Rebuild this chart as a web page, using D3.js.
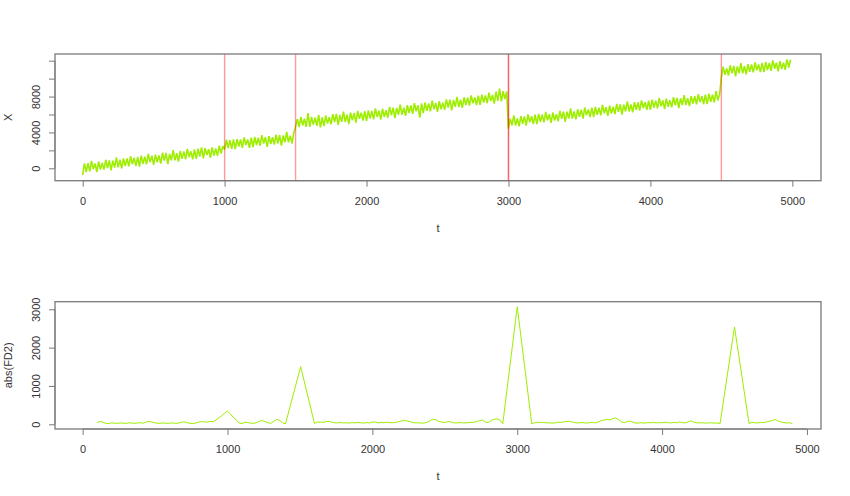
<!DOCTYPE html>
<html>
<head>
<meta charset="utf-8">
<script src="https://cdn.jsdelivr.net/npm/d3@7"></script>
<style>
    body { margin: 0; background: #fff; }
    text { font-family: "Liberation Sans", Arial, sans-serif; font-size: 11px; fill: #333; }
</style>
</head>
<body>
<div id="chart"></div>
<script>
// Top panel: X as [low, high] per 25-step bin of t
const binSize = 25;
const xBand = [
    // t 0 - 975
    [-750, 540], [-420, 560], [-340, 820], [-80, 530], [-410, 740], [-130, 600], [-150, 950], [10, 870],
    [-220, 850], [80, 1210], [100, 960], [-20, 1100], [250, 1100], [220, 1340], [460, 1170], [260, 1270],
    [180, 1420], [500, 1300], [440, 1600], [680, 1410], [380, 1530], [670, 1440], [530, 1730], [860, 1710],
    [470, 1610], [880, 2030], [880, 1680], [750, 1930], [1050, 1880], [1010, 2160], [1260, 1890], [990, 2110],
    [1060, 2200], [1300, 2330], [1120, 2250], [1480, 2130], [1180, 2340], [1430, 2200], [1390, 2530], [1630, 2470],
    // t 1000 - 1475
    [2080, 3180], [2260, 3140], [2180, 3210], [2130, 3260], [2430, 3230], [2270, 3440], [2600, 3210], [2290, 3410],
    [2360, 3490], [2600, 3400], [2520, 3700], [2770, 3470], [2400, 3600], [2710, 3460], [2650, 3750], [2770, 3710],
    [2540, 3650], [2900, 4050], [2900, 3640], [2770, 3940],
    // t 1500 - 2975
    [4650, 5480], [4590, 5720], [4780, 5530], [4630, 6150], [4620, 5740], [4870, 5640], [4740, 5960], [4560, 5690],
    [4700, 5890], [4990, 5700], [4910, 6050], [5150, 6070], [4840, 5940], [5180, 6330], [5160, 5980], [4930, 6210],
    [5350, 6180], [5090, 6410], [5520, 6210], [5330, 6360], [5300, 6450], [5560, 6390], [5460, 6680], [5730, 6430],
    [5420, 6640], [5730, 6470], [5640, 6850], [5930, 6770], [5590, 6730], [5980, 7110], [5960, 6760], [5850, 7040],
    [6170, 7000], [6070, 7260], [6360, 7030], [5650, 7230], [6160, 7340], [6400, 7240], [6340, 7540], [6590, 7290],
    [6300, 7490], [6590, 7320], [6510, 7690], [6770, 7650], [6460, 7610], [6860, 7970], [6840, 7640], [6730, 7920],
    [7050, 7880], [6990, 8120], [7240, 7910], [7050, 8110], [7080, 8210], [7320, 8120], [7260, 8440], [7510, 8190],
    [7220, 8560], [7510, 8900], [7450, 8610], [7710, 8570],
    // t 3000 - 4475
    [4420, 5530], [4780, 5890], [4760, 5560], [4670, 5820], [4950, 5780], [4750, 6000], [5140, 5810], [4930, 5970],
    [4940, 6070], [5180, 5980], [5120, 6280], [5350, 6030], [5060, 6220], [5330, 6040], [5250, 6410], [5510, 6330],
    [5180, 6310], [5560, 6670], [5540, 6340], [5450, 6580], [5730, 6540], [5530, 6780], [5920, 6570], [5710, 6750],
    [5720, 6850], [5960, 6760], [5900, 7060], [6130, 6810], [5840, 7000], [6110, 6840], [6050, 7190], [6290, 7130],
    [5980, 7090], [6340, 7470], [6340, 7120], [6230, 7380], [6530, 7340], [6450, 7580], [6720, 7370], [6510, 7550],
    [6520, 7650], [6760, 7540], [6680, 7840], [6910, 7570], [6600, 7760], [6870, 7580], [6790, 7930], [7030, 7850],
    [6700, 7810], [7060, 8170], [7040, 7820], [6930, 8060], [7210, 8040], [7130, 8260], [7380, 8050], [7170, 8210],
    [7160, 8310], [7400, 8220], [7340, 8600], [7570, 8230],
    // t 4500 - 4975
    [10150, 11340], [10430, 11140], [10350, 11490], [10590, 11410], [10260, 11370], [10620, 11730], [10600, 11380], [10490, 11620],
    [10770, 11580], [10690, 11800], [10940, 11590], [10730, 11750], [10720, 11850], [10960, 11740], [10880, 12040], [11110, 11770],
    [10800, 11960], [11070, 11780], [10990, 12150], [11230, 12110]
];
// vertical markers; 3000 appears in both sets, so it is drawn darker
const trueChangePoints = [1000, 1500, 3000, 4500];
const foundChangePoints = [3000];

// Bottom panel: abs(FD2) as [t, value]
const fd2 = [
    [100, 45], [120, 70], [140, 55], [160, 25], [180, 20], [200, 35], [220, 30], [240, 25], [260, 35], [280, 30],
    [300, 25], [320, 40], [340, 30], [360, 25], [380, 35], [400, 40], [420, 30], [440, 60], [460, 75], [480, 55],
    [500, 40], [520, 25], [540, 30], [560, 35], [580, 25], [600, 30], [620, 35], [640, 25], [660, 30], [680, 50],
    [700, 65], [720, 40], [740, 25], [760, 20], [780, 30], [800, 55], [820, 70], [840, 65], [860, 55], [880, 75],
    [900, 70], [920, 110], [940, 170], [960, 220], [980, 290], [1000, 345], [1020, 270], [1040, 180], [1060, 120], [1080, 35],
    [1100, 20], [1120, 55], [1140, 45], [1160, 30], [1180, 25], [1200, 40], [1220, 80], [1240, 95], [1260, 70], [1280, 40],
    [1300, 25], [1320, 80], [1340, 130], [1360, 100], [1380, 40], [1400, 10], [1505, 1503], [1600, 20], [1620, 55], [1640, 60],
    [1660, 50], [1680, 70], [1700, 75], [1720, 55], [1740, 40], [1760, 35], [1780, 50], [1800, 35], [1820, 40], [1840, 30],
    [1860, 45], [1880, 35], [1900, 50], [1920, 40], [1940, 30], [1960, 45], [1980, 35], [2000, 55], [2020, 60], [2040, 35],
    [2060, 50], [2080, 40], [2100, 55], [2120, 45], [2140, 40], [2160, 50], [2180, 65], [2200, 85], [2220, 95], [2240, 90],
    [2260, 70], [2280, 45], [2300, 35], [2320, 40], [2340, 30], [2360, 35], [2380, 55], [2400, 100], [2420, 130], [2440, 115],
    [2460, 70], [2480, 60], [2500, 45], [2520, 70], [2540, 65], [2560, 40], [2580, 35], [2600, 45], [2620, 40], [2640, 35],
    [2660, 45], [2680, 50], [2700, 55], [2720, 65], [2740, 95], [2760, 110], [2780, 60], [2800, 45], [2820, 100], [2840, 130],
    [2860, 140], [2880, 115], [2900, 10], [3000, 3068], [3100, 15], [3120, 40], [3140, 55], [3160, 45], [3180, 50], [3200, 35],
    [3220, 40], [3240, 30], [3260, 35], [3280, 55], [3300, 50], [3320, 60], [3340, 75], [3360, 80], [3380, 60], [3400, 40],
    [3420, 35], [3440, 45], [3460, 40], [3480, 30], [3500, 45], [3520, 50], [3540, 35], [3560, 60], [3580, 95], [3600, 110],
    [3620, 130], [3640, 115], [3660, 150], [3680, 165], [3700, 120], [3720, 60], [3740, 45], [3760, 70], [3780, 85], [3800, 55],
    [3820, 30], [3840, 35], [3860, 40], [3880, 30], [3900, 45], [3920, 40], [3940, 50], [3960, 35], [3980, 45], [4000, 40],
    [4020, 55], [4040, 45], [4060, 35], [4080, 50], [4100, 40], [4120, 60], [4140, 45], [4160, 35], [4180, 65], [4200, 90],
    [4220, 55], [4240, 40], [4260, 35], [4280, 40], [4300, 30], [4320, 35], [4340, 40], [4360, 30], [4380, 35], [4400, 15],
    [4500, 2538], [4600, 20], [4620, 50], [4640, 40], [4660, 35], [4680, 50], [4700, 45], [4720, 60], [4740, 80], [4760, 95],
    [4780, 125], [4800, 90], [4820, 60], [4840, 45], [4860, 35], [4880, 40], [4900, 15]
];

// Ticks and labels
const tTicks = [0, 1000, 2000, 3000, 4000, 5000];
const topYTicks = [0, 2000, 4000, 6000, 8000, 10000, 12000];
const topYLabels = [0, 4000, 8000];
const botYTicks = [0, 1000, 2000, 3000];
const botYLabels = [0, 1000, 2000, 3000];

const lineColor = "#9eee00";
const boxColor = "#7a7a7a";

const svg = d3.select("#chart")
    .append("svg")
    .attr("width", 850)
    .attr("height", 496);

function drawPanel(p) {
    const g = svg.append("g");

    const x = d3.scaleLinear().domain(p.xDomain).range([p.left, p.right]);
    const y = d3.scaleLinear().domain(p.yDomain).range([p.bottom, p.top]);

    // x axis
    const xAxis = g.append("g")
        .attr("transform", `translate(0,${p.bottom})`)
        .call(d3.axisBottom(x).tickValues(tTicks).tickSize(6).tickSizeOuter(0).tickFormat(d3.format("d")));
    xAxis.select(".domain").remove();
    xAxis.selectAll(".tick line").attr("stroke", boxColor);
    xAxis.selectAll(".tick text").attr("y", 24).attr("dy", 0)
        .style("font-family", '"Liberation Sans", Arial, sans-serif').style("font-size", "11px").attr("fill", "#333");
    g.append("line")
        .attr("x1", x(tTicks[0])).attr("x2", x(tTicks[tTicks.length - 1]))
        .attr("y1", p.bottom).attr("y2", p.bottom)
        .attr("stroke", boxColor);

    // y axis
    const yAxis = g.append("g")
        .attr("transform", `translate(${p.left},0)`)
        .call(d3.axisLeft(y).tickValues(p.yTicks).tickSize(6).tickSizeOuter(0)
            .tickFormat(d => p.yLabels.includes(d) ? d3.format("d")(d) : ""));
    yAxis.select(".domain").remove();
    yAxis.selectAll(".tick line").attr("stroke", boxColor);
    yAxis.selectAll(".tick text")
        .attr("transform", "rotate(-90)")
        .attr("x", 0).attr("y", -15).attr("dy", 0)
        .attr("text-anchor", "middle")
        .style("font-family", '"Liberation Sans", Arial, sans-serif').style("font-size", "11px").attr("fill", "#333");
    g.append("line")
        .attr("x1", p.left).attr("x2", p.left)
        .attr("y1", y(p.yTicks[0])).attr("y2", y(p.yTicks[p.yTicks.length - 1]))
        .attr("stroke", boxColor);

    // axis titles
    g.append("text")
        .attr("text-anchor", "middle")
        .attr("x", (p.left + p.right) / 2)
        .attr("y", p.bottom + 51)
        .text("t");
    g.append("text")
        .attr("text-anchor", "middle")
        .attr("transform", "rotate(-90)")
        .attr("x", -(p.top + p.bottom) / 2)
        .attr("y", 12)
        .text(p.yTitle);

    // data
    p.drawData(g, x, y);

    // box
    g.append("rect")
        .attr("x", p.left).attr("y", p.top)
        .attr("width", p.right - p.left).attr("height", p.bottom - p.top)
        .attr("fill", "none")
        .attr("stroke", boxColor)
        .attr("stroke-width", 1.3);
}

// Top panel
drawPanel({
    left: 55, right: 821, top: 54, bottom: 180.7,
    xDomain: [-195, 5202], yDomain: [-1383, 12747],
    yTicks: topYTicks, yLabels: topYLabels, yTitle: "X",
    drawData: (g, x, y) => {
        const pts = [];
        xBand.forEach((d, i) => {
            pts.push([i * binSize, d[0]]);
            pts.push([i * binSize + binSize / 2, d[1]]);
        });
        g.append("path")
            .datum(pts)
            .attr("fill", "none")
            .attr("stroke", lineColor)
            .attr("stroke-width", 1.6)
            .attr("stroke-linejoin", "bevel")
            .attr("d", d3.line().x(d => x(d[0])).y(d => y(d[1])));

        [trueChangePoints, foundChangePoints].forEach(cps => {
            g.append("g")
                .selectAll("line")
                .data(cps)
                .enter()
                .append("line")
                .attr("x1", d => x(d)).attr("x2", d => x(d))
                .attr("y1", 54).attr("y2", 180.7)
                .attr("stroke", "#ff0000")
                .attr("stroke-opacity", 0.4)
                .attr("stroke-width", 1.4);
        });
    }
});

// Bottom panel
drawPanel({
    left: 55, right: 821, top: 301.7, bottom: 429,
    xDomain: [-191, 5097], yDomain: [-123, 3198],
    yTicks: botYTicks, yLabels: botYLabels, yTitle: "abs(FD2)",
    drawData: (g, x, y) => {
        g.append("path")
            .datum(fd2)
            .attr("fill", "none")
            .attr("stroke", lineColor)
            .attr("stroke-width", 1)
            .attr("d", d3.line().x(d => x(d[0])).y(d => y(d[1])));
    }
});
</script>
</body>
</html>
